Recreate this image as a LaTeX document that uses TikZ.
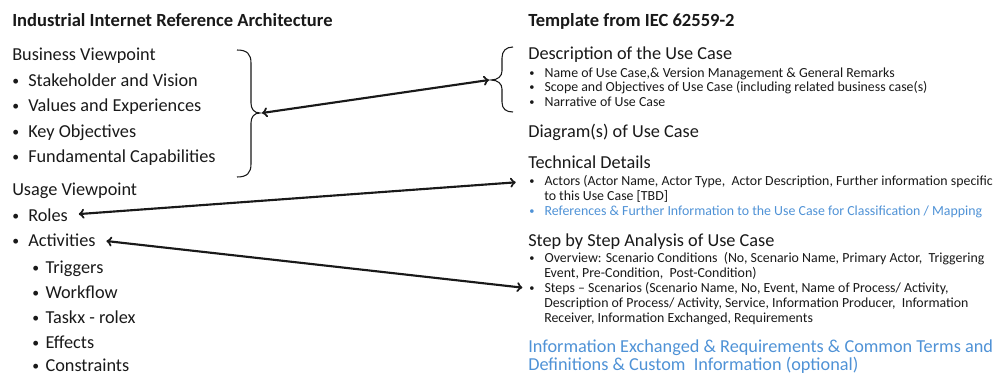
\documentclass[tikz,border=0pt]{standalone}
\usepackage{fontspec}
\setmainfont{Carlito}

\definecolor{tblue}{RGB}{79,146,214}
\definecolor{tink}{RGB}{25,25,25}
\newcommand\bitem[1]{\makebox[#1][l]{\raisebox{.12ex}{\scalebox{.75}{\textbullet}}}}

\tikzset{
  big/.style={anchor=mid west,inner sep=0pt,yshift=-2.2pt,text=tink,font=\fontsize{13.7}{16}\selectfont},
  ttl/.style={anchor=mid west,inner sep=0pt,yshift=-2.2pt,text=tink,font=\fontsize{13.9}{16}\selectfont\bfseries},
  sml/.style={anchor=mid west,inner sep=0pt,yshift=-1.6pt,text=tink,font=\fontsize{10.4}{12}\selectfont},
  link/.style={<->,line width=1.6pt,tink},
  brc/.style={line width=0.8pt,tink}
}

\begin{document}
\begin{tikzpicture}[x=0.75pt,y=-0.75pt]
      \useasboundingbox (0,0) rectangle (1000,374);

      % left column
      \node[ttl] (iira) at (12,20) {Industrial Internet Reference Architecture};
      \node[big] (bvp) at (12,54) {Business Viewpoint};
      \node[big] (stake) at (12,80) {\bitem{12pt}Stakeholder and Vision};
      \node[big] (values) at (12,105) {\bitem{12pt}Values and Experiences};
      \node[big] (keyobj) at (12,131) {\bitem{12pt}Key Objectives};
      \node[big] (fundcap) at (12,156) {\bitem{12pt}Fundamental Capabilities};
      \node[big] (uvp) at (12,189) {Usage Viewpoint};
      \node[big] (roles) at (12,215) {\bitem{12pt}Roles};
      \node[big] (activ) at (12,240) {\bitem{12pt}Activities};
      \node[big] (trig) at (32,267) {\bitem{10pt}Triggers};
      \node[big] (work) at (32,292) {\bitem{10pt}Workflow};
      \node[big] (task) at (32,317) {\bitem{10pt}Taskx - rolex};
      \node[big] (effects) at (32,342) {\bitem{10pt}Effects};
      \node[big] (constr) at (32,365) {\bitem{10pt}Constraints};

      % right column
      \node[ttl] (iec) at (528,20) {Template from IEC 62559-2};
      \node[big] (desc) at (528,53) {Description of the Use Case};
      \node[sml] (d1) at (529,72) {\bitem{11.5pt}Name of Use Case,\& Version Management \& General Remarks};
      \node[sml] (d2) at (529,86) {\bitem{11.5pt}Scope and Objectives of Use Case (including related business case(s)};
      \node[sml] (d3) at (529,101) {\bitem{11.5pt}Narrative of Use Case};
      \node[big] (diag) at (528,131) {Diagram(s) of Use Case};
      \node[big] (tech) at (528,162) {Technical Details};
      \node[sml] (actors) at (529,180) {\bitem{11.5pt}Actors (Actor Name, Actor Type,\ \ Actor Description, Further information specific};
      \node[sml] (actors2) at (544,195) {to this Use Case [TBD]};
      \node[sml,text=tblue] (refs) at (529,210) {\bitem{11.5pt}References \& Further Information to the Use Case for Classification / Mapping};
      \node[big] (step) at (528,240) {Step by Step Analysis of Use Case};
      \node[sml] (over) at (529,257) {\bitem{11.5pt}Overview: Scenario Conditions\ \ (No, Scenario Name, Primary Actor,\ \ Triggering};
      \node[sml] (over2) at (544,272) {Event, Pre-Condition,\ \ Post-Condition)};
      \node[sml] (steps) at (529,287) {\bitem{11.5pt}Steps -- Scenarios (Scenario Name, No, Event, Name of Process/ Activity,};
      \node[sml] (steps2) at (544,302) {Description of Process/ Activity, Service, Information Producer,\ \ Information};
      \node[sml] (steps3) at (544,317) {Receiver, Information Exchanged, Requirements};
      \node[big,text=tblue] (info) at (528,346) {Information Exchanged \& Requirements \& Common Terms and};
      \node[big,text=tblue] (info2) at (528,364) {Definitions \& Custom\ \ Information (optional)};

      % braces
      \draw[brc] (237,50) .. controls (247,50) and (251,54) .. (251,63) -- (251,103)
                 .. controls (251,109) and (254,113) .. (260,113)
                 .. controls (254,113) and (251,117) .. (251,123) -- (251,164)
                 .. controls (251,173) and (247,177) .. (237,177);
      \draw[brc] (513,47) .. controls (506,47) and (502,51) .. (502,58) -- (502,71)
                 .. controls (502,76) and (498,80) .. (491,80)
                 .. controls (498,80) and (502,84) .. (502,89) -- (502,102)
                 .. controls (502,109) and (506,112) .. (513,112);
      \coordinate (bvtip) at (262,113);
      \coordinate (desctip) at (489,80);

      % links
      \draw[link] (bvtip) -- (desctip);
      \draw[link,shorten <=8pt,shorten >=10pt] (roles.east) -- (actors.west);
      \draw[link,shorten <=8pt,shorten >=5pt] (activ.east) -- (steps.west);
\end{tikzpicture}
\end{document}
